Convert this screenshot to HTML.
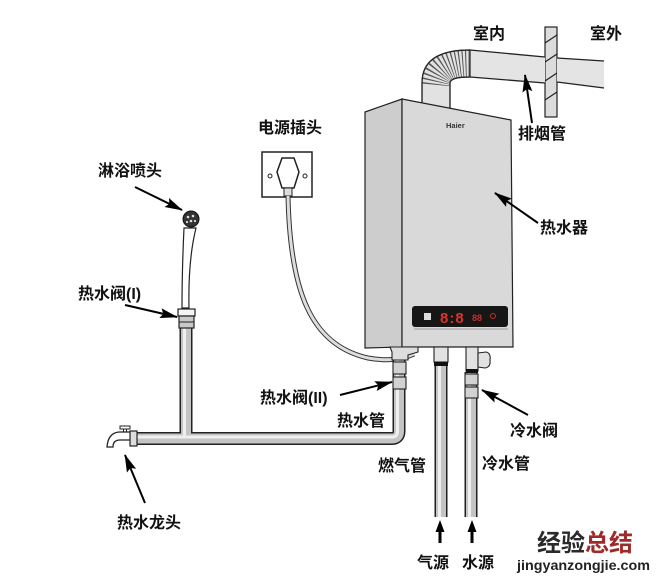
<!DOCTYPE html>
<html><head><meta charset="utf-8"><style>
html,body{margin:0;padding:0;background:#fff;}
svg{display:block;}
text{font-family:"Liberation Sans","Noto Sans CJK SC",sans-serif;font-weight:bold;fill:#111;}
</style></head><body>
<svg width="666" height="583" viewBox="0 0 666 583" xmlns="http://www.w3.org/2000/svg">
<defs>
<marker id="ah" viewBox="0 0 18 10" refX="17" refY="5" markerWidth="18" markerHeight="10" markerUnits="userSpaceOnUse" orient="auto">
<path d="M0,0 L18,5 L0,10 L3,5 Z" fill="#000"/>
</marker>
<clipPath id="elb"><path d="M422,86 Q422,50 470,50 L470,77 Q450,77 450,86 Z"/></clipPath>
</defs>

<!-- wall -->
<rect x="545" y="27" width="12" height="90" fill="#dcdcdc" stroke="#222" stroke-width="1.2"/>
<g stroke="#222" stroke-width="1.2">
<line x1="545" y1="43" x2="557" y2="35"/>
<line x1="545" y1="62" x2="557" y2="54"/>
<line x1="545" y1="81" x2="557" y2="73"/>
<line x1="545" y1="100" x2="557" y2="92"/>
</g>

<!-- flue pipe outside -->
<path d="M557,58 L604,61 L604,88 L557,82 Z" fill="#e4e4e4"/>
<line x1="557" y1="58" x2="604" y2="61" stroke="#222" stroke-width="1.3"/>
<line x1="557" y1="82" x2="604" y2="88" stroke="#222" stroke-width="1.3"/>

<!-- flue pipe inside -->
<path d="M470,50 L545,57 L545,83 L470,77 Z" fill="#e4e4e4"/>
<line x1="470" y1="50" x2="545" y2="57" stroke="#222" stroke-width="1.3"/>
<line x1="470" y1="77" x2="545" y2="83" stroke="#222" stroke-width="1.3"/>
<path d="M422,112 L422,83 Q422,50 470,50 L470,77 Q450,77 450,83 L450,112 Z" fill="#e2e2e2" stroke="#222" stroke-width="1.2"/>
<g clip-path="url(#elb)">
<path d="M436,88 Q436,63 470,63.5" fill="none" stroke="#555" stroke-width="40" stroke-dasharray="1 2.1"/>
</g>
<path d="M422,112 L422,83 Q422,50 470,50 M450,112 L450,83 Q450,77 470,77" fill="none" stroke="#222" stroke-width="1.2"/>

<!-- heater -->
<polygon points="365,112 402,99 402,347 365,348" fill="#cdcdcd" stroke="#222" stroke-width="1.2"/>
<polygon points="402,99 511,120 513,347 402,347" fill="#d9d9d9" stroke="#222" stroke-width="1.2"/>
<text x="446" y="128" font-size="7.5" style="fill:#333">Haier</text>
<rect x="412" y="306" width="96" height="21" rx="3" fill="#161616"/>
<line x1="414" y1="329" x2="508" y2="329" stroke="#999" stroke-width="1"/>
<rect x="424" y="313" width="7" height="7" fill="#ddd"/>
<text x="440" y="323" font-size="15" style="fill:#d8342c" letter-spacing="1">8:8</text>
<text x="472" y="321" font-size="9" style="fill:#c8302a">88</text>
<circle cx="493" cy="316" r="2.5" fill="none" stroke="#c8302a" stroke-width="1"/>

<!-- socket -->
<rect x="262" y="152" width="50" height="45" fill="#fff" stroke="#222" stroke-width="1.5"/>
<circle cx="270" cy="176" r="2" fill="none" stroke="#222" stroke-width="1"/>
<circle cx="305" cy="176" r="2" fill="none" stroke="#222" stroke-width="1"/>
<polygon points="282,158 294,158 299,172 294,188 282,188 277,172" fill="#fff" stroke="#222" stroke-width="1.5"/>
<rect x="284" y="188" width="8" height="8" fill="#ddd" stroke="#222" stroke-width="1"/>

<!-- cable -->
<path d="M288,196 C290,290 310,345 368,358 Q395,363 414,354" fill="none" stroke="#333" stroke-width="5"/>
<path d="M288,196 C290,290 310,345 368,358 Q395,363 414,354" fill="none" stroke="#ddd" stroke-width="3"/>

<!-- pipes outer -->
<g fill="none" stroke="#222" stroke-width="13" stroke-linecap="butt">
<path d="M137,438.5 L392,438.5 Q399,438.5 399,431 L399,357"/>
<path d="M186,328 L186,438"/>
<path d="M441,348 L441,517"/>
<path d="M471,372 L471,517"/>
</g>
<g fill="none" stroke="#c4c4c4" stroke-width="10" stroke-linecap="butt">
<path d="M137,438.5 L392,438.5 Q399,438.5 399,431 L399,357"/>
<path d="M186,328 L186,439"/>
<path d="M441,348 L441,517"/>
<path d="M471,372 L471,517"/>
</g>
<g fill="none" stroke="#efefef" stroke-width="3" stroke-linecap="butt">
<path d="M137,437 L392,437 Q397.5,437 397.5,431 L397.5,357"/>
<path d="M184.5,328 L184.5,436"/>
<path d="M439.5,348 L439.5,517"/>
<path d="M469.5,372 L469.5,517"/>
</g>

<!-- shower head & handle -->
<path d="M184,228 Q182,270 182,308 L189,308 Q188,260 196,228 Z" fill="#fff" stroke="#222" stroke-width="1.2"/>
<circle cx="191" cy="219" r="8" fill="#333" stroke="#111" stroke-width="1"/>
<g fill="#ddd"><circle cx="188" cy="217" r="1.3"/><circle cx="193" cy="216" r="1.3"/><circle cx="191" cy="221" r="1.3"/><circle cx="187" cy="222" r="1.1"/><circle cx="195" cy="221" r="1.1"/></g>
<rect x="178" y="309" width="17" height="7" fill="#f4f4f4" stroke="#222" stroke-width="1.2"/>
<rect x="179" y="316" width="15" height="12" fill="#c8c8c8" stroke="#222" stroke-width="1.2"/>
<line x1="179" y1="322" x2="194" y2="322" stroke="#222" stroke-width="1"/>

<!-- faucet -->
<rect x="120" y="426" width="10" height="3" fill="#fff" stroke="#222" stroke-width="1"/>
<rect x="123.5" y="429" width="3" height="4" fill="#fff" stroke="#222" stroke-width="1"/>
<path d="M131,432 L119,432 Q108,433 107,447 L113,447 Q113,440 120,440 L131,440 Z" fill="#fff" stroke="#222" stroke-width="1.3"/>
<rect x="130" y="431" width="7" height="15" fill="#ddd" stroke="#222" stroke-width="1.2"/>

<!-- fittings at heater bottom -->
<path d="M390,347 L418,347 L418,352 L408,355 L408,360 L392,360 L392,352 Z" fill="#ddd" stroke="#222" stroke-width="1.1"/>
<rect x="393" y="362" width="13" height="12" fill="#d2d2d2" stroke="#222" stroke-width="1.1"/>
<rect x="393" y="377" width="13" height="12" fill="#d2d2d2" stroke="#222" stroke-width="1.1"/>
<rect x="434" y="347" width="14" height="15" fill="#e2e2e2" stroke="#222" stroke-width="1.1"/>
<rect x="434" y="362" width="14" height="4" fill="#111"/>
<rect x="466" y="347" width="12" height="24" fill="#e2e2e2" stroke="#222" stroke-width="1.1"/>
<path d="M478,353 L486,352 Q491,353 490,360 Q491,367 485,368 L478,367 Z" fill="#e2e2e2" stroke="#222" stroke-width="1.1"/>
<rect x="466" y="369" width="12" height="4" fill="#111"/>
<rect x="465" y="374" width="13" height="11" fill="#d2d2d2" stroke="#222" stroke-width="1.1"/>
<rect x="465" y="387" width="13" height="11" fill="#d2d2d2" stroke="#222" stroke-width="1.1"/>

<!-- arrows -->
<g stroke="#000" stroke-width="2" marker-end="url(#ah)">
<line x1="135" y1="187" x2="182" y2="210"/>
<line x1="125" y1="305" x2="177" y2="317"/>
<line x1="145" y1="503" x2="125" y2="455"/>
<line x1="340" y1="395" x2="392" y2="382"/>
<line x1="538" y1="223" x2="495" y2="193"/>
<line x1="532" y1="123" x2="525" y2="75"/>
<line x1="528" y1="415" x2="482" y2="390"/>
</g>
<polygon points="435.5,532 444.5,532 440,520" fill="#000"/>
<rect x="438.5" y="531" width="3" height="12" fill="#000"/>
<polygon points="467.5,532 476.5,532 472,520" fill="#000"/>
<rect x="470.5" y="531" width="3" height="12" fill="#000"/>

<!-- labels -->
<g font-size="16">
<text x="473" y="39">室内</text>
<text x="590" y="39">室外</text>
<text x="518" y="139">排烟管</text>
<text x="258" y="133">电源插头</text>
<text x="98" y="176">淋浴喷头</text>
<text x="540" y="233">热水器</text>
<text x="78" y="299">热水阀(I)</text>
<text x="260" y="403">热水阀(II)</text>
<text x="337" y="426">热水管</text>
<text x="510" y="436">冷水阀</text>
<text x="378" y="471">燃气管</text>
<text x="482" y="469">冷水管</text>
<text x="117" y="528">热水龙头</text>
<text x="417" y="568">气源</text>
<text x="462" y="568">水源</text>
</g>
<text x="537" y="551" font-size="24" style="fill:#2a2a2a">经验<tspan style="fill:#9e2b2b">总结</tspan></text>
<text x="517" y="570" font-size="14" textLength="133" lengthAdjust="spacingAndGlyphs" style="fill:#222">jingyanzongjie.com</text>
</svg>
</body></html>
